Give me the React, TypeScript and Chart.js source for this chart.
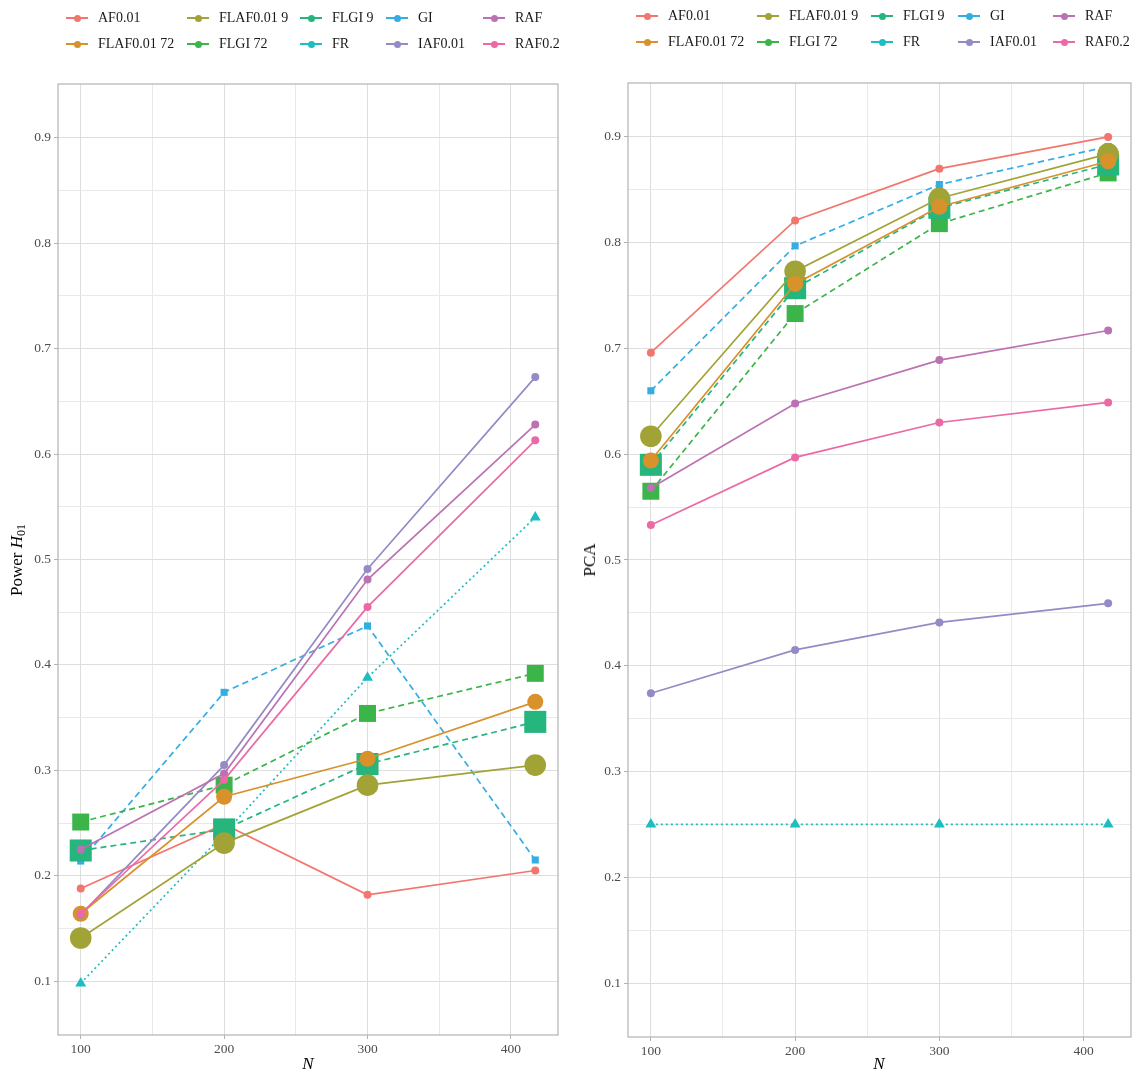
import React, { useEffect, useRef } from 'react';
import { Chart, registerables } from 'chart.js';

Chart.register(...registerables);

// ---------- data ----------
const N_VALUES = [100, 200, 300, 417];
const SERIES = ['AF0.01', 'FLAF0.01 72', 'FLAF0.01 9', 'FLGI 72', 'FLGI 9', 'FR', 'GI', 'IAF0.01', 'RAF', 'RAF0.2'];

const powerAF = [0.188, 0.249, 0.182, 0.205];
const powerFLAF72 = [0.164, 0.275, 0.311, 0.365];
const powerFLAF9 = [0.141, 0.231, 0.286, 0.305];
const powerFLGI72 = [0.251, 0.286, 0.354, 0.392];
const powerFLGI9 = [0.224, 0.244, 0.306, 0.346];
const powerFR = [0.098, 0.240, 0.388, 0.540];
const powerGI = [0.214, 0.374, 0.437, 0.215];
const powerIAF = [0.163, 0.305, 0.491, 0.673];
const powerRAF = [0.225, 0.297, 0.481, 0.628];
const powerRAF02 = [0.164, 0.291, 0.455, 0.613];

const pcaAF = [0.696, 0.821, 0.870, 0.900];
const pcaFLAF72 = [0.594, 0.761, 0.834, 0.877];
const pcaFLAF9 = [0.617, 0.773, 0.842, 0.884];
const pcaFLGI72 = [0.565, 0.733, 0.818, 0.866];
const pcaFLGI9 = [0.590, 0.757, 0.833, 0.874];
const pcaFR = [0.25, 0.25, 0.25, 0.25];
const pcaGI = [0.660, 0.797, 0.855, 0.891];
const pcaIAF = [0.374, 0.415, 0.441, 0.459];
const pcaRAF = [0.568, 0.648, 0.689, 0.717];
const pcaRAF02 = [0.533, 0.597, 0.630, 0.649];

const X_TICK_LABELS = [100, 200, 300, 400];
const X_GRID = [100, 150, 200, 250, 300, 350, 400];
const Y_TICK_LABELS = [0.1, 0.2, 0.3, 0.4, 0.5, 0.6, 0.7, 0.8, 0.9];
const Y_GRID = [0.1, 0.15, 0.2, 0.25, 0.3, 0.35, 0.4, 0.45, 0.5, 0.55, 0.6, 0.65, 0.7, 0.75, 0.8, 0.85, 0.9];

const X_MIN = 84.15;
const X_MAX = 432.85;
const Y_MIN = 0.049;
const Y_MAX = 0.951;

// ---------- styles ----------
const COLORS = ['#F2766E', '#D8912B', '#A2A336', '#3BB44A', '#25B57D', '#1EBDC1', '#34ADE3', '#948BC6', '#BB72B2', '#EB6AA6'];
const DASHES = [[], [], [], [6, 4], [6, 4], [2, 3], [6.5, 4], [], [], []];
const POINT_STYLES = ['circle', 'circle', 'circle', 'rect', 'rect', 'triangle', 'rect', 'circle', 'circle', 'circle'];
const POINT_RADII = [4, 8, 10.8, 12, 15.6, 6.3, 5, 4, 4, 4];
const DRAW_ORDER = [10, 4, 5, 7, 6, 9, 8, 3, 2, 1];

const FONT = "'Liberation Serif', 'Times New Roman', serif";

const panelBorder = {
  id: 'panelBorder',
  afterDraw(chart: any) {
    const { ctx, chartArea } = chart;
    ctx.save();
    ctx.strokeStyle = '#B3B3B3';
    ctx.lineWidth = 1.2;
    ctx.strokeRect(chartArea.left, chartArea.top, chartArea.right - chartArea.left, chartArea.bottom - chartArea.top);
    ctx.restore();
  },
};

const near = (a: number, b: number) => Math.abs(a - b) < 1e-6;
const isMajorY = (v: number) => Y_TICK_LABELS.some((t) => near(t, v));
const isMajorX = (v: number) => X_TICK_LABELS.some((t) => near(t, v));

type PanelSpec = {
  left: number;
  width: number;
  padTop: number;
  padRight: number;
  yAxisW: number;
  xAxisH: number;
  values: number[][];
};

function buildConfig(spec: PanelSpec): any {
  const datasets = SERIES.map((name, i) => ({
    label: name,
    data: N_VALUES.map((x, j) => ({ x, y: spec.values[i][j] })),
    borderColor: COLORS[i],
    backgroundColor: COLORS[i],
    borderWidth: 1.7,
    borderDash: DASHES[i],
    pointStyle: POINT_STYLES[i],
    pointRadius: POINT_RADII[i],
    pointBackgroundColor: COLORS[i],
    pointBorderColor: COLORS[i],
    pointBorderWidth: 0,
    tension: 0,
    fill: false,
    order: DRAW_ORDER[i],
  }));
  const tickFont = { family: FONT, size: 13.5 };
  return {
    type: 'line',
    data: { datasets },
    options: {
      animation: false,
      responsive: false,
      maintainAspectRatio: false,
      layout: { autoPadding: false, padding: { top: spec.padTop, right: spec.padRight, bottom: 0, left: 0 } },
      plugins: { legend: { display: false }, tooltip: { enabled: false }, title: { display: false } },
      scales: {
        x: {
          type: 'linear',
          min: X_MIN,
          max: X_MAX,
          afterBuildTicks: (axis: any) => {
            axis.ticks = X_GRID.map((v) => ({ value: v }));
          },
          afterFit: (axis: any) => {
            axis.height = spec.xAxisH;
          },
          border: { display: false },
          grid: {
            color: (c: any) => (c.tick && isMajorX(c.tick.value) ? '#DEDEDE' : '#E9E9E9'),
            lineWidth: 1,
            tickLength: 4,
            tickColor: (c: any) => (c.tick && isMajorX(c.tick.value) ? '#B3B3B3' : 'rgba(0,0,0,0)'),
          },
          ticks: {
            autoSkip: false,
            maxRotation: 0,
            padding: 2,
            color: '#4D4D4D',
            font: tickFont,
            callback: (v: any) => (isMajorX(Number(v)) ? String(Math.round(Number(v))) : ''),
          },
        },
        y: {
          type: 'linear',
          min: Y_MIN,
          max: Y_MAX,
          afterBuildTicks: (axis: any) => {
            axis.ticks = Y_GRID.map((v) => ({ value: v }));
          },
          afterFit: (axis: any) => {
            axis.width = spec.yAxisW;
          },
          border: { display: false },
          grid: {
            color: (c: any) => (c.tick && isMajorY(c.tick.value) ? '#DEDEDE' : '#E9E9E9'),
            lineWidth: 1,
            tickLength: 4,
            tickColor: (c: any) => (c.tick && isMajorY(c.tick.value) ? '#B3B3B3' : 'rgba(0,0,0,0)'),
          },
          ticks: {
            autoSkip: false,
            padding: 3,
            color: '#4D4D4D',
            font: tickFont,
            callback: (v: any) => (isMajorY(Number(v)) ? Number(v).toFixed(1) : ''),
          },
        },
      },
    },
    plugins: [panelBorder],
  };
}

const POWER_VALUES = [powerAF, powerFLAF72, powerFLAF9, powerFLGI72, powerFLGI9, powerFR, powerGI, powerIAF, powerRAF, powerRAF02];
const PCA_VALUES = [pcaAF, pcaFLAF72, pcaFLAF9, pcaFLGI72, pcaFLGI9, pcaFR, pcaGI, pcaIAF, pcaRAF, pcaRAF02];

const LEFT_SPEC: PanelSpec = { left: 0, width: 568, padTop: 84, padRight: 10, yAxisW: 58, xAxisH: 39, values: POWER_VALUES };
const RIGHT_SPEC: PanelSpec = { left: 568, width: 568, padTop: 83, padRight: 5, yAxisW: 60, xAxisH: 37, values: PCA_VALUES };

function Panel({ spec }: { spec: PanelSpec }) {
  const ref = useRef<HTMLCanvasElement>(null);
  useEffect(() => {
    if (!ref.current) return;
    const chart = new Chart(ref.current, buildConfig(spec));
    return () => chart.destroy();
  }, [spec]);
  return (
    <canvas
      ref={ref}
      width={spec.width}
      height={1074}
      style={{ position: 'absolute', left: spec.left, top: 0, width: spec.width, height: 1074 }}
    />
  );
}

function Legend({ keyX, rowY }: { keyX: number[]; rowY: number[] }) {
  const items: any[] = [];
  SERIES.forEach((name, i) => {
    const col = Math.floor(i / 2);
    const row = i % 2;
    const x = keyX[col];
    const y = rowY[row];
    items.push(
      <div key={name} style={{ position: 'absolute', left: x, top: y - 10, height: 20, whiteSpace: 'nowrap' }}>
        <div style={{ position: 'absolute', left: 0, top: 9.2, width: 22, height: 1.7, background: COLORS[i] }} />
        <div
          style={{
            position: 'absolute',
            left: 7.5,
            top: 6.5,
            width: 7,
            height: 7,
            borderRadius: '50%',
            background: COLORS[i],
          }}
        />
        <span
          style={{
            position: 'absolute',
            left: 32,
            top: 0,
            lineHeight: '20px',
            fontFamily: FONT,
            fontSize: 14,
            color: '#1A1A1A',
          }}
        >
          {name}
        </span>
      </div>
    );
  });
  return <>{items}</>;
}

const titleStyle: any = { position: 'absolute', fontFamily: FONT, fontSize: 17, color: '#000', whiteSpace: 'nowrap' };

export default function App() {
  return (
    <div style={{ position: 'fixed', left: 0, top: 0, width: 1136, height: 1074, background: '#fff', overflow: 'hidden' }}>
      <Panel spec={LEFT_SPEC} />
      <Panel spec={RIGHT_SPEC} />
      <Legend keyX={[66, 187, 300, 386, 483]} rowY={[18, 44]} />
      <Legend keyX={[636, 757, 871, 958, 1053]} rowY={[16, 42]} />
      <div style={{ ...titleStyle, left: 17, top: 560, transform: 'translate(-50%, -50%) rotate(-90deg)' }}>
        Power <i>H</i>
        <sub style={{ fontSize: 12, verticalAlign: 'baseline', position: 'relative', top: 3 }}>01</sub>
      </div>
      <div style={{ ...titleStyle, left: 590, top: 560, transform: 'translate(-50%, -50%) rotate(-90deg)' }}>PCA</div>
      <div style={{ ...titleStyle, left: 308, top: 1064, transform: 'translate(-50%, -50%)' }}>
        <i>N</i>
      </div>
      <div style={{ ...titleStyle, left: 879, top: 1064, transform: 'translate(-50%, -50%)' }}>
        <i>N</i>
      </div>
    </div>
  );
}
